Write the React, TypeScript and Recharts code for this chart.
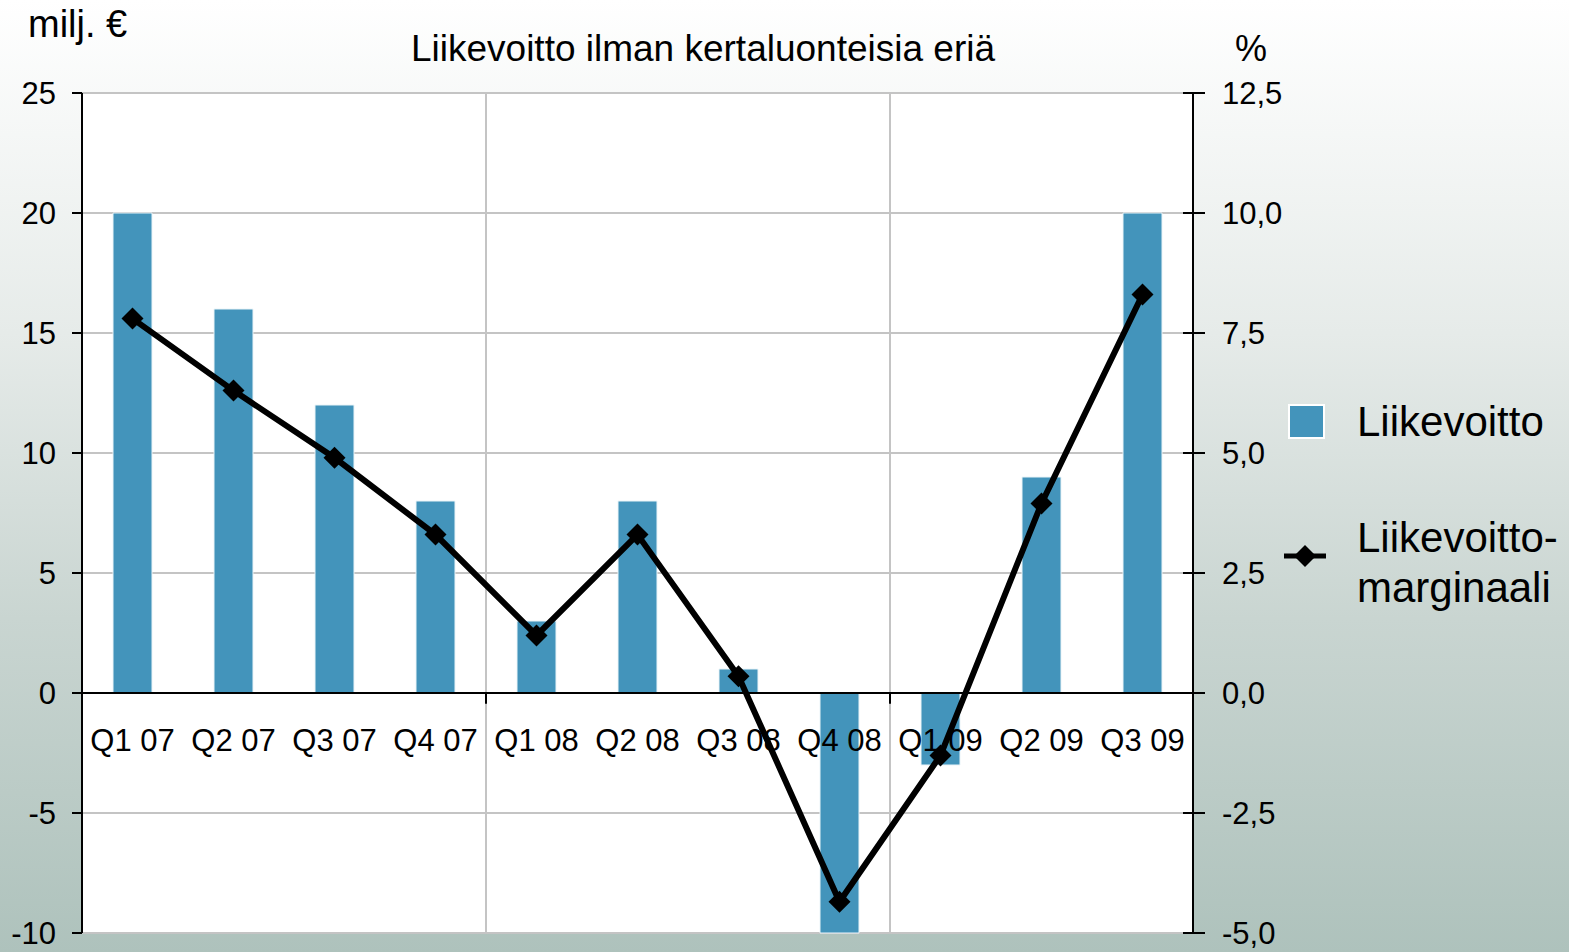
import React from 'react';
import {
  ComposedChart,
  Bar,
  Line,
  XAxis,
  YAxis,
  CartesianGrid,
  ReferenceLine,
} from 'recharts';

const categories = ['Q1 07', 'Q2 07', 'Q3 07', 'Q4 07', 'Q1 08', 'Q2 08', 'Q3 08', 'Q4 08', 'Q1 09', 'Q2 09', 'Q3 09'];
const liikevoitto = [20, 16, 12, 8, 3, 8, 1, -10, -3, 9, 20];
const marginaali = [7.8, 6.3, 4.9, 3.3, 1.2, 3.3, 0.35, -4.35, -1.3, 3.95, 8.3];

const leftTicks = [-10, -5, 0, 5, 10, 15, 20, 25];
const rightTicks = [-5, -2.5, 0, 2.5, 5, 7.5, 10, 12.5];
const yearStarts = ['Q1 08', 'Q1 09'];

const data = categories.map((q, i) => ({
  q,
  liikevoitto: liikevoitto[i],
  marginaali: marginaali[i],
}));

const W = 1569;
const H = 952;
const xAxisH = 19;
const margin = { top: 93, right: 276, bottom: 0, left: 0 };
const plotH = H - margin.top - margin.bottom - xAxisH;
const leftMin = -10;
const leftMax = 25;

const FONT = '"Liberation Sans", Arial, sans-serif';
const BAR = '#4394bb';
const TICK_FS = 31;

const fmt = (v: number) => v.toFixed(1).replace('.', ',');

// category labels sit under the zero line, not at the bottom of the plot
const CategoryTick = (props: any) => {
  const { x, y, payload } = props;
  const zeroY = y - (plotH * (0 - leftMin)) / (leftMax - leftMin);
  return (
    <text x={x} y={zeroY + 58} textAnchor="middle" fontSize={TICK_FS} fill="#000" fontFamily={FONT}>
      {payload.value}
    </text>
  );
};

const RightTick = (props: any) => {
  const { x, y, payload } = props;
  return (
    <g>
      <line x1={x - 10} x2={x + 12} y1={y} y2={y} stroke="#000" strokeWidth={2} />
      <text x={x + 29} y={y} dy="0.35em" textAnchor="start" fontSize={TICK_FS} fill="#000" fontFamily={FONT}>
        {fmt(payload.value)}
      </text>
    </g>
  );
};

const Diamond = (props: any) => {
  const { cx, cy } = props;
  if (cx == null || cy == null) return null;
  const r = 11;
  return <polygon points={`${cx},${cy - r} ${cx + r},${cy} ${cx},${cy + r} ${cx - r},${cy}`} fill="#000" />;
};

export default function App() {
  return (
    <div
      style={{
        position: 'fixed',
        left: 0,
        top: 0,
        width: W,
        height: H,
        background: 'linear-gradient(to bottom, #ffffff 0%, #e6ebe9 35%, #c9d5d1 65%, #aec2bc 100%)',
        fontFamily: FONT,
      }}
    >
      <ComposedChart width={W} height={H} data={data} margin={margin} barCategoryGap={0}>
        <CartesianGrid yAxisId="left" vertical={false} stroke="#c4c4c4" strokeWidth={2} fill="#ffffff" />
        <XAxis
          dataKey="q"
          height={xAxisH}
          axisLine={false}
          tickLine={false}
          tickSize={0}
          tickMargin={0}
          interval={0}
          tick={<CategoryTick />}
        />
        <YAxis
          yAxisId="left"
          orientation="left"
          width={82}
          domain={[leftMin, leftMax]}
          ticks={leftTicks}
          interval={0}
          axisLine={{ stroke: '#000', strokeWidth: 2 }}
          tickLine={{ stroke: '#000', strokeWidth: 2 }}
          tickSize={10}
          tickMargin={16}
          tick={{ fill: '#000', fontSize: TICK_FS, fontFamily: FONT }}
        />
        <YAxis
          yAxisId="right"
          orientation="right"
          width={100}
          domain={[-5, 12.5]}
          ticks={rightTicks}
          interval={0}
          axisLine={{ stroke: '#000', strokeWidth: 2 }}
          tickLine={false}
          tickSize={0}
          tickMargin={0}
          tick={<RightTick />}
        />
        {yearStarts.map((q) => (
          <ReferenceLine key={q} yAxisId="left" x={q} position="start" stroke="#c4c4c4" strokeWidth={2} />
        ))}
        <Bar
          yAxisId="left"
          dataKey="liikevoitto"
          barSize={39}
          fill={BAR}
          stroke="#eaf4f8"
          strokeWidth={1}
          isAnimationActive={false}
        />
        <ReferenceLine yAxisId="left" y={0} stroke="#000" strokeWidth={2} />
        {yearStarts.map((q) => (
          <ReferenceLine
            key={'t' + q}
            yAxisId="left"
            position="start"
            segment={[{ x: q, y: 0 }, { x: q, y: -0.45 }]}
            stroke="#000"
            strokeWidth={2}
          />
        ))}
        <Line
          yAxisId="right"
          dataKey="marginaali"
          stroke="#000"
          strokeWidth={6}
          dot={<Diamond />}
          activeDot={false}
          isAnimationActive={false}
        />
      </ComposedChart>
      <svg
        width={W}
        height={H}
        style={{ position: 'absolute', left: 0, top: 0, pointerEvents: 'none' }}
        fontFamily={FONT}
      >
        <text x={28} y={37} fontSize={38} fill="#000">milj. €</text>
        <text x={703} y={61} fontSize={37} fill="#000" textAnchor="middle">
          Liikevoitto ilman kertaluonteisia eriä
        </text>
        <text x={1251} y={61} fontSize={36} fill="#000" textAnchor="middle">%</text>

        <rect x={1289} y={405} width={35} height={33} fill={BAR} stroke="#ffffff" strokeWidth={2} />
        <text x={1357} y={436} fontSize={42} fill="#000">Liikevoitto</text>

        <line x1={1284} x2={1326} y1={556} y2={556} stroke="#000" strokeWidth={5} />
        <polygon points="1305,545 1316,556 1305,567 1294,556" fill="#000" />
        <text x={1357} y={552} fontSize={42} fill="#000">Liikevoitto-</text>
        <text x={1357} y={602} fontSize={42} fill="#000">marginaali</text>
      </svg>
    </div>
  );
}
